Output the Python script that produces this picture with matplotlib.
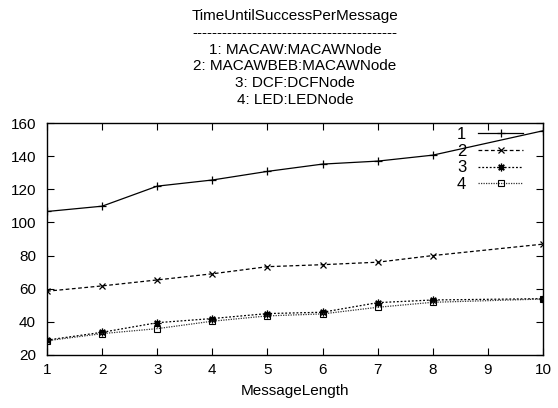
import matplotlib
matplotlib.use("Agg")
import matplotlib.pyplot as plt

plt.rcParams['font.family'] = ['Liberation Sans', 'DejaVu Sans']

msg_len = [1, 2, 3, 4, 5, 6, 7, 8, 10]
macaw = [106.6, 109.8, 121.9, 125.6, 130.8, 135.2, 137.0, 140.6, 155.3]
macawbeb = [58.5, 61.7, 65.3, 69.0, 73.3, 74.5, 76.0, 80.0, 86.9]
dcf = [29.0, 33.7, 39.5, 42.0, 45.0, 45.8, 51.6, 53.2, 54.0]
led = [28.6, 32.9, 35.9, 40.4, 43.6, 44.8, 48.8, 51.8, 53.8]
labels = ["1", "2", "3", "4"]
title_lines = ["TimeUntilSuccessPerMessage",
               "-" * 41,
               "1: MACAW:MACAWNode",
               "2: MACAWBEB:MACAWNode",
               "3: DCF:DCFNode",
               "4: LED:LEDNode"]

fig = plt.figure(figsize=(5.58, 4.08), dpi=100)
ax = fig.add_axes([47/558, 1 - 355/408, (543-47)/558, (355-123)/408])

ax.plot(msg_len, macaw, color='black', lw=0.9, ls='-', marker='+', ms=6, mew=0.9, label=labels[0])
ax.plot(msg_len, macawbeb, color='black', lw=0.9, ls=(0, (3, 2)), marker='x', ms=4.5, mew=0.9, label=labels[1])
ax.plot(msg_len, dcf, color='black', lw=0.9, ls=(0, (1.5, 1.5)), marker=(8, 2, 0), ms=5.5, mew=0.9, label=labels[2])
ax.plot(msg_len, led, color='#333333', lw=0.9, ls=(0, (1, 1)), marker='s', ms=4.5, mew=0.8,
        mfc='none', mec='black', label=labels[3])

ax.set_xlim(1, 10)
ax.set_ylim(20, 160)
ax.set_xticks(range(1, 11))
ax.set_yticks(range(20, 161, 20))
ax.tick_params(direction='in', length=5, labelsize=11, top=True, right=True, width=0.8)
ax.tick_params(axis='x', pad=6)
ax.tick_params(axis='y', pad=8)
for s in ax.spines.values():
    s.set_linewidth(1.0)
ax.set_xlabel("MessageLength", fontsize=11, labelpad=5)

fig.text(295/558, 1 - 9/408, "\n".join(title_lines), ha='center', va='top',
         fontsize=11, linespacing=1.25)

leg = ax.legend(loc='upper right', bbox_to_anchor=(523/558, 1 - 127/408),
                bbox_transform=fig.transFigure, frameon=False, markerfirst=False,
                fontsize=12, handlelength=2.7, labelspacing=0.1, borderaxespad=0,
                borderpad=0, handletextpad=0.7)

fig.savefig("out.png", dpi=100)
